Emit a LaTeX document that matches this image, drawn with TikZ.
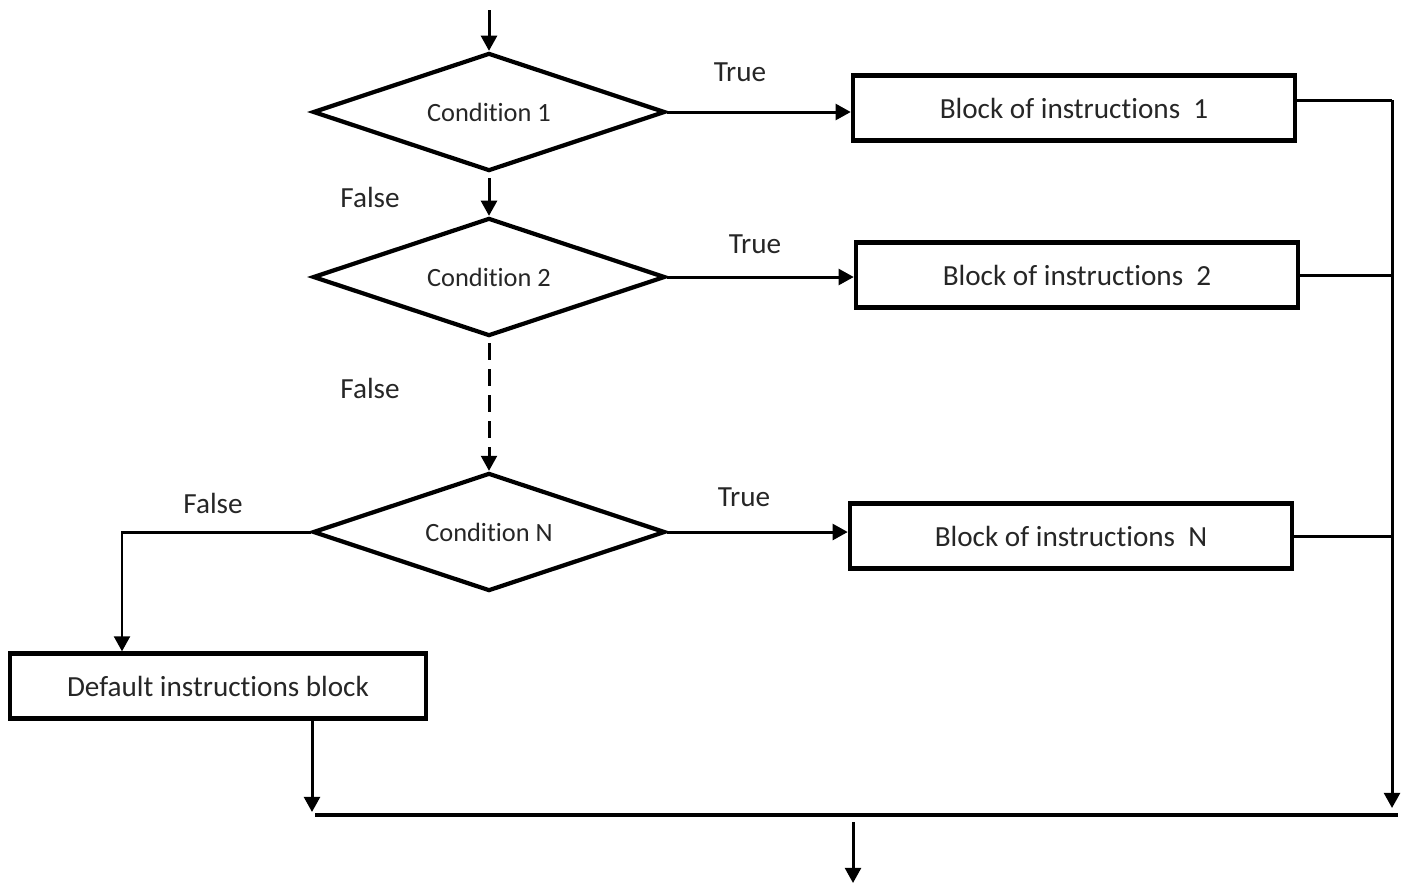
\documentclass[tikz,border=0pt]{standalone}
\usepackage{fontspec}
\setmainfont{Carlito}[Ligatures={NoCommon}]
\usetikzlibrary{shapes.geometric,arrows.meta}
\begin{document}
\begin{tikzpicture}[x=0.01cm,y=-0.01cm,
	cond/.style={diamond,aspect=3,draw,line width=1.2pt,inner sep=0pt,minimum width=3.52cm,minimum height=1.18cm,font=\fontsize{7.5}{9}\selectfont,text=black!85},
	block/.style={rectangle,draw,line width=1.2pt,inner sep=0pt,minimum width=4.42cm,minimum height=0.65cm,font=\fontsize{8.3}{10}\selectfont,text=black!85},
	lbl/.style={font=\fontsize{8.3}{10}\selectfont,text=black!85},
	conn/.style={line width=0.85pt},
	arr/.style={conn,-{Triangle[length=4.3pt,width=4.5pt]}}]
	\useasboundingbox (0,0) rectangle (1410,884);
	% conditions
	\node[cond](c1) at (489,112) {Condition 1};
	\node[cond](c2) at (489,277) {Condition 2};
	\node[cond](cn) at (489,532) {Condition N};
	% blocks
	\node[block](b1) at (1074,108) {Block of instructions\ \ 1};
	\node[block](b2) at (1077,275) {Block of instructions\ \ 2};
	\node[block](bn) at (1071,536) {Block of instructions\ \ N};
	\node[block,minimum width=4.16cm](dflt) at (218,686) {Default instructions block};
	% labels
	\node[lbl](t1) at (740,72) {True};
	\node[lbl](t2) at (755,244) {True};
	\node[lbl](tn) at (744,497) {True};
	\node[lbl](f1) at (370,197) {False};
	\node[lbl](f2) at (370,388) {False};
	\node[lbl](fn) at (213,503) {False};
	% helper points
	\coordinate(in) at (489,10);
	\coordinate(rtop) at (1392,100);
	\coordinate(rbot) at (1392,808);
	\coordinate(fl) at (122,532);
	\coordinate(dj) at (312,812);
	\coordinate(jl) at (315,815);
	\coordinate(jr) at (1398,815);
	\coordinate(o1) at (853,822);
	\coordinate(o2) at (853,883);
	% connectors
	\draw[arr] (in) -- (c1.north);
	\draw[arr] ([yshift=-0.05cm]c1.south) -- (c2.north);
	\draw[arr,dash pattern=on 4.8pt off 2.6pt] ([yshift=-0.05cm]c2.south) -- (cn.north);
	\draw[arr] (c1.east) -- (b1.west |- c1.east);
	\draw[arr] (c2.east) -- (b2.west |- c2.east);
	\draw[arr] (cn.east) -- (bn.west |- cn.east);
	\draw[conn] (b1.east |- rtop) -- (rtop);
	\draw[arr] (rtop) -- (rbot);
	\draw[conn] (b2.east) -- (b2.east -| rtop);
	\draw[conn] (bn.east) -- (bn.east -| rtop);
	\draw[arr] (cn.west) -- (fl) -- (dflt.north -| fl);
	\draw[arr] (dflt.south -| dj) -- (dj);
	\draw[conn,line width=1pt] (jl) -- (jr);
	\draw[arr] (o1) -- (o2);
\end{tikzpicture}
\end{document}
